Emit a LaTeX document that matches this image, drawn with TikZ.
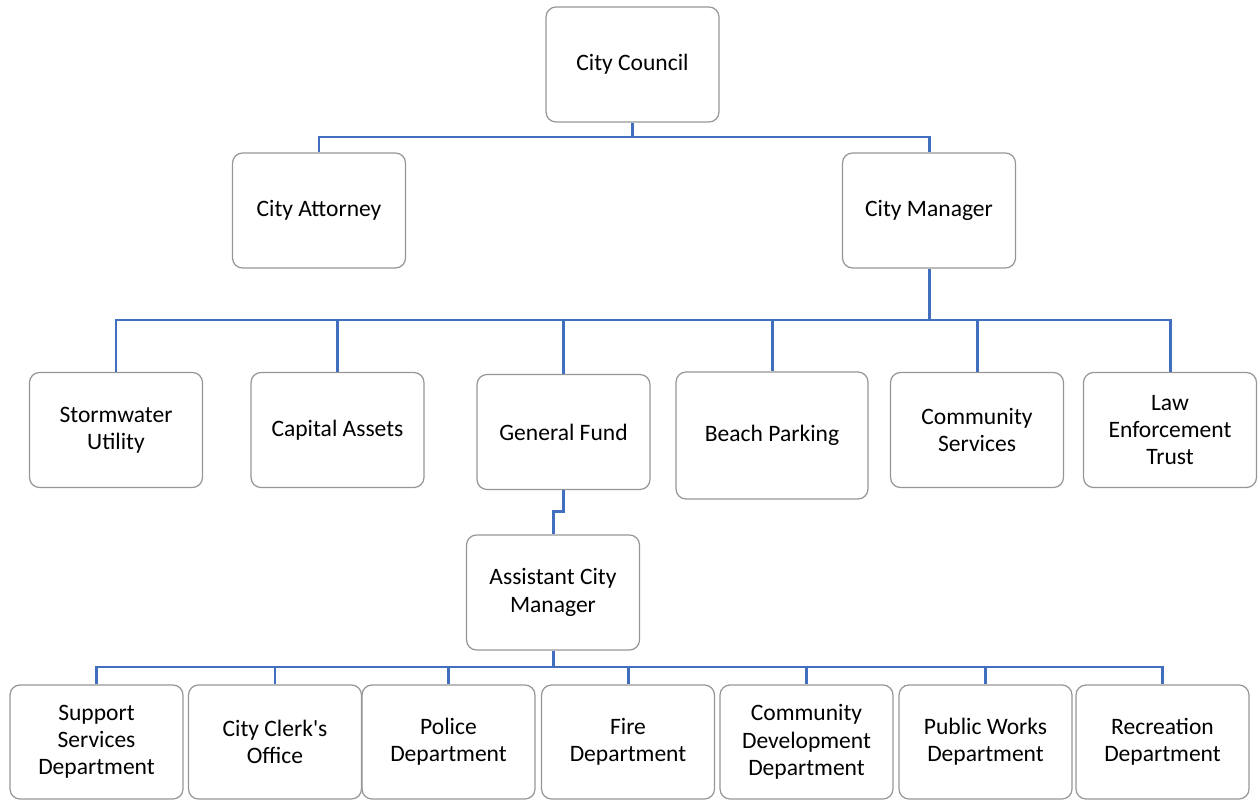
\documentclass[tikz,border=0pt]{standalone}
\usepackage{fontspec}
\setmainfont{Carlito}[Ligatures=TeXOff]
\usetikzlibrary{positioning}
\definecolor{orgblue}{RGB}{66,110,192}
\definecolor{boxgray}{RGB}{150,150,150}

\begin{document}
\begin{tikzpicture}[x=0.02cm, y=-0.02cm,
  unit/.style={draw=boxgray, line width=0.7pt, rounded corners=0.2cm, align=center,
    minimum width=3.46cm, minimum height=2.3cm, inner sep=2pt,
    font=\fontsize{13.4}{15.5}\selectfont},
  link/.style={draw=orgblue, line width=1.7pt}]
  \useasboundingbox (0,0) rectangle (1260,800);

  % top
  \node[unit] (council)  at (632.5,64.5)  {City Council};
  \node[unit] (attorney) at (319,210.5)   {City Attorney};
  \node[unit] (manager)  at (929,210.5)   {City Manager};

  % funds
  \node[unit] (storm)     at (116,430)    {Stormwater\\Utility};
  \node[unit] (capital)   at (337.5,430)  {Capital Assets};
  \node[unit] (general)   at (563.5,432)  {General Fund};
  \node[unit, minimum width=3.84cm, minimum height=2.54cm] (beach) at (772,435.5) {Beach Parking};
  \node[unit] (community) at (977,430)    {Community\\Services};
  \node[unit] (law)       at (1170,430)   {Law\\Enforcement\\Trust};

  \node[unit] (acm) at (553,592.5) {Assistant City\\Manager};

  % departments
  \node[unit, minimum height=2.28cm] (support)    at (96.5,742)   {Support\\Services\\Department};
  \node[unit, minimum height=2.28cm] (clerk)      at (275,742)    {City Clerk's\\Office};
  \node[unit, minimum height=2.28cm] (police)     at (448.5,742)  {Police\\Department};
  \node[unit, minimum height=2.28cm] (fire)       at (628,742)    {Fire\\Department};
  \node[unit, minimum height=2.28cm] (commdev)    at (806.5,742)  {Community\\Development\\Department};
  \node[unit, minimum height=2.28cm] (works)      at (985.5,742)  {Public Works\\Department};
  \node[unit, minimum height=2.28cm] (recreation) at (1162.5,742) {Recreation\\Department};

  \coordinate (topbus) at (632,137);
  \coordinate (midbus) at (929,320);
  \coordinate (lowbus) at (553,667);

  % connectors
  \draw[link] (council.south) -- (council.south |- topbus);
  \draw[link] (attorney.north) |- (manager.north |- topbus) -- (manager.north);

  \draw[link] (manager.south) -- (manager.south |- midbus);
  \draw[link] (storm.north) |- (law.north |- midbus) -- (law.north);
  \foreach \n in {capital,general,beach,community}
    \draw[link] (\n.north |- midbus) -- (\n.north);

  \draw[link] (general.south) -- ++(0,21) -| (acm.north);

  \draw[link] (acm.south) -- (acm.south |- lowbus);
  \draw[link] (support.north) |- (recreation.north |- lowbus) -- (recreation.north);
  \foreach \n in {clerk,police,fire,commdev,works}
    \draw[link] (\n.north |- lowbus) -- (\n.north);
\end{tikzpicture}
\end{document}
